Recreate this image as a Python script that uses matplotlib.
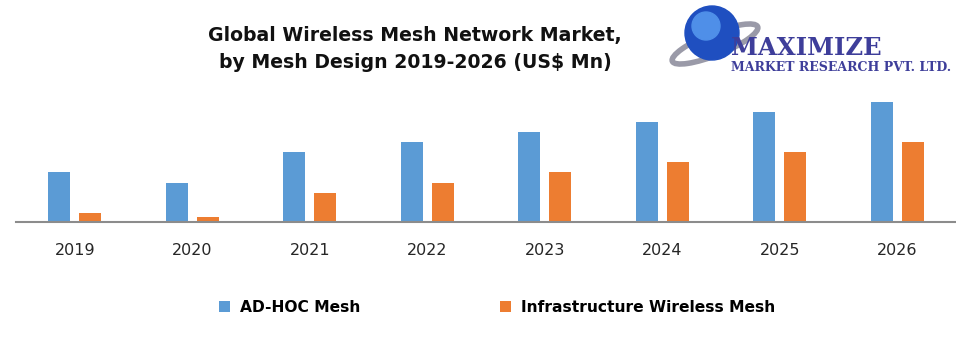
import matplotlib.pyplot as plt
import numpy as np
from matplotlib.patches import Circle, Ellipse

years = ["2019", "2020", "2021", "2022", "2023", "2024", "2025", "2026"]
ad_hoc = [50, 39, 70, 80, 90, 100, 110, 120]
infrastructure = [9, 5, 29, 39, 50, 60, 70, 80]
series_names = ["AD-HOC Mesh", "Infrastructure Wireless Mesh"]

BLUE = "#5B9BD5"
ORANGE = "#ED7D31"

fig = plt.figure(figsize=(9.56, 3.51), dpi=100)
ax = fig.add_axes([16 / 956, (351 - 222) / 351, 940 / 956, 132 / 351])

x = np.arange(len(years))
w = 0.187
b1 = ax.bar(x - 0.132, ad_hoc, w, color=BLUE, label=series_names[0])
b2 = ax.bar(x + 0.132, infrastructure, w, color=ORANGE, label=series_names[1])

ax.set_xlim(-0.5, len(years) - 0.5)
ax.set_ylim(0, 132)
ax.set_xticks(x)
ax.set_xticklabels(years, fontsize=11.5, color="#262626")
ax.tick_params(axis="x", length=0, pad=15)
ax.set_yticks([])
for s in ["top", "right", "left"]:
    ax.spines[s].set_visible(False)
ax.spines["bottom"].set_color("#8c8c8c")
ax.spines["bottom"].set_linewidth(1.5)

# title
fig.text(415 / 956, 1 - 36 / 351, "Global Wireless Mesh Network Market,",
         ha="center", va="center", fontsize=13.6, fontweight="bold", color="#111111")
fig.text(415 / 956, 1 - 63 / 351, "by Mesh Design 2019-2026 (US$ Mn)",
         ha="center", va="center", fontsize=13.6, fontweight="bold", color="#111111")

# legend
fig.legend(handles=[b1, b2], loc="center", bbox_to_anchor=(497 / 956, 1 - 307 / 351),
           ncol=2, frameon=False, prop={"weight": "bold", "size": 11.2},
           handlelength=0.7, handleheight=0.7, handletextpad=0.65, columnspacing=9.0)

# logo
lax = fig.add_axes([640 / 956, 1 - 90 / 351, 316 / 956, 90 / 351])
lax.set_xlim(640, 956)
lax.set_ylim(90, 0)
lax.axis("off")
lax.add_patch(Ellipse((715, 44), 92, 22, angle=-22, fill=False, edgecolor="#9a9aa8", lw=4))
lax.add_patch(Circle((712, 33), 27, color="#1f4fc0"))
lax.add_patch(Circle((706, 26), 14, color="#4f8fe8"))
lax.text(731, 55, "MAXIMIZE", fontsize=17.5, fontweight="bold", family="DejaVu Serif",
         color="#3e3e9a", va="baseline")
lax.text(731, 71, "MARKET RESEARCH PVT. LTD.", fontsize=9, fontweight="bold",
         family="DejaVu Serif", color="#3e3e9a", va="baseline")

fig.savefig("out.png", dpi=100)
